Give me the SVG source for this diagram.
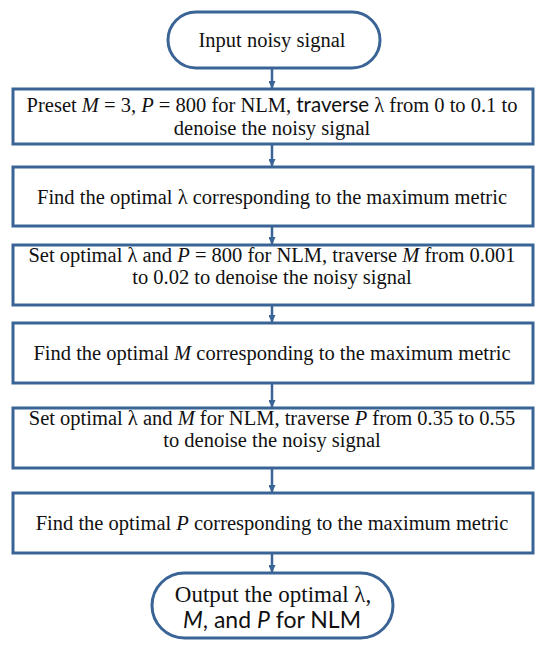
<svg xmlns="http://www.w3.org/2000/svg" width="550" height="650" viewBox="0 0 550 650">
<defs>
<marker id="ah" markerWidth="8" markerHeight="7" refX="8" refY="3.5" orient="auto" markerUnits="userSpaceOnUse">
<path d="M0,0 L8,3.5 L0,7 Z" fill="#3B6496"/>
</marker>
<style>
.box{fill:#fff;stroke:#3B6496;stroke-width:3}
.t{font-family:"Liberation Serif","Times New Roman",serif;font-size:20.5px;fill:#111;text-anchor:middle}
.big{font-size:23px}
.s{font-family:Lato,"Noto Sans",sans-serif}
.i{font-style:italic}
.c{stroke:#3B6496;stroke-width:2.5;fill:none}
</style>
</defs>
<rect width="550" height="650" fill="#fff"/>
<g id="connectors">
<line class="c" x1="272" y1="68" x2="272" y2="89" marker-end="url(#ah)"/>
<line class="c" x1="272" y1="144" x2="272" y2="167" marker-end="url(#ah)"/>
<line class="c" x1="272" y1="226" x2="272" y2="245" marker-end="url(#ah)"/>
<line class="c" x1="272" y1="305" x2="272" y2="323" marker-end="url(#ah)"/>
<line class="c" x1="272" y1="383" x2="272" y2="408" marker-end="url(#ah)"/>
<line class="c" x1="272" y1="468" x2="272" y2="493" marker-end="url(#ah)"/>
<line class="c" x1="272" y1="553" x2="272" y2="573" marker-end="url(#ah)"/>
</g>
<g id="start">
<rect class="box" x="168" y="12" width="212" height="56" rx="28"/>
<text class="t" x="272" y="47">Input noisy signal</text>
</g>
<g id="step1">
<rect class="box" x="13" y="89" width="520" height="55"/>
<text class="t" x="272" y="112">Preset <tspan class="i">M</tspan> = 3, <tspan class="i">P</tspan> = 800 for NLM, <tspan class="s">traverse</tspan> λ from 0 to 0.1 to</text>
<text class="t" x="272" y="135">denoise the noisy signal</text>
</g>
<g id="step2">
<rect class="box" x="13" y="167" width="520" height="59"/>
<text class="t" x="272" y="204">Find the optimal λ corresponding to the maximum metric</text>
</g>
<g id="step3">
<rect class="box" x="13" y="245" width="520" height="60"/>
<text class="t" x="272" y="262">Set optimal λ and <tspan class="i">P</tspan> = 800 for NLM, traverse <tspan class="i">M</tspan> from 0.001</text>
<text class="t" x="272" y="284">to 0.02 to denoise the noisy signal</text>
</g>
<g id="step4">
<rect class="box" x="13" y="323" width="520" height="60"/>
<text class="t" x="272" y="360">Find the optimal <tspan class="i">M</tspan> corresponding to the maximum metric</text>
</g>
<g id="step5">
<rect class="box" x="13" y="408" width="520" height="60"/>
<text class="t" x="272" y="425">Set optimal λ and <tspan class="i">M</tspan> for NLM, traverse <tspan class="i">P</tspan> from 0.35 to 0.55</text>
<text class="t" x="272" y="447">to denoise the noisy signal</text>
</g>
<g id="step6">
<rect class="box" x="13" y="493" width="520" height="60"/>
<text class="t" x="272" y="530">Find the optimal <tspan class="i">P</tspan> corresponding to the maximum metric</text>
</g>
<g id="end">
<rect class="box" x="152" y="573" width="241" height="65" rx="32.5"/>
<text class="t big" x="273" y="602">Output the optimal λ,</text>
<text class="t big s" x="272" y="628"><tspan class="i">M</tspan>, and <tspan class="i">P</tspan> for NLM</text>
</g>
</svg>
